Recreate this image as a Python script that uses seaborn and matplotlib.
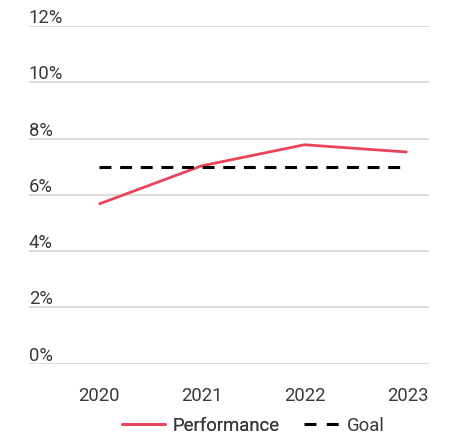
import matplotlib
matplotlib.use("Agg")
import matplotlib.pyplot as plt
import matplotlib.transforms as mtransforms
from matplotlib.lines import Line2D
import pandas as pd
import seaborn as sns

years = [2020, 2021, 2022, 2023]
performance = [5.67, 7.03, 7.78, 7.52]
goal = [7.0, 7.0, 7.0, 7.0]
y_ticks = [0, 2, 4, 6, 8, 10, 12]
y_labels = ["0%", "2%", "4%", "6%", "8%", "10%", "12%"]

sns.set_theme(style="white")
plt.rcParams["font.family"] = ["Roboto", "DejaVu Sans"]

TEXT = "#3a3a3a"
GRID = "#d9d9d9"
RED = "#e8445a"
FS = 13.3

df = pd.DataFrame({
    "year": years * 2,
    "value": performance + goal,
    "series": ["Performance"] * len(years) + ["Goal"] * len(years),
})

fig = plt.figure(figsize=(4.58, 4.39), dpi=100)
ax = fig.add_axes([29 / 458, (439 - 364.7) / 439, 400 / 458, (364.7 - 27) / 439])

sns.lineplot(
    data=df, x="year", y="value", hue="series", style="series",
    palette={"Performance": RED, "Goal": "black"},
    dashes={"Performance": "", "Goal": (3.9, 2.85)},
    ax=ax, legend=False,
)
for line, lw in zip(ax.get_lines(), [2.0, 2.2]):
    line.set_linewidth(lw)
    line.set_solid_capstyle("butt")

ax.set_ylim(0, 12)
ax.set_xlim(2020 - 0.677, 2023 + 0.21)
ax.set_xticks(years)
ax.set_xticklabels([str(y) for y in years])
ax.set_yticks(y_ticks)
ax.set_yticklabels([])
ax.grid(axis="y", color=GRID, linewidth=1.3)
ax.grid(axis="x", visible=False)
for s in ax.spines.values():
    s.set_visible(False)
ax.tick_params(axis="both", length=0)
ax.tick_params(axis="x", pad=16, labelsize=FS, labelcolor=TEXT)
ax.set_xlabel("")
ax.set_ylabel("")

trans = mtransforms.blended_transform_factory(ax.transAxes, ax.transData)
for v, lab in zip(y_ticks, y_labels):
    ax.text(0, v, lab, transform=trans, ha="left", va="bottom",
            fontsize=FS, color=TEXT)

# legend: one entry per box so each handle gets its own length
legend_y = 1 - 426 / 439
common = dict(loc="center left", frameon=False, fontsize=FS, labelcolor=TEXT,
              handletextpad=0.4, borderpad=0, borderaxespad=0)
leg1 = fig.legend([Line2D([], [], color=RED, linewidth=2.0)], ["Performance"],
                  bbox_to_anchor=(122 / 458, legend_y), handlelength=2.35, **common)
fig.add_artist(leg1)
fig.legend([Line2D([], [], color="black", linewidth=2.2,
                   linestyle=(0, (3.9, 3.4)))], ["Goal"],
           bbox_to_anchor=(304 / 458, legend_y), handlelength=1.9, **common)

fig.savefig("out.png", dpi=100)
